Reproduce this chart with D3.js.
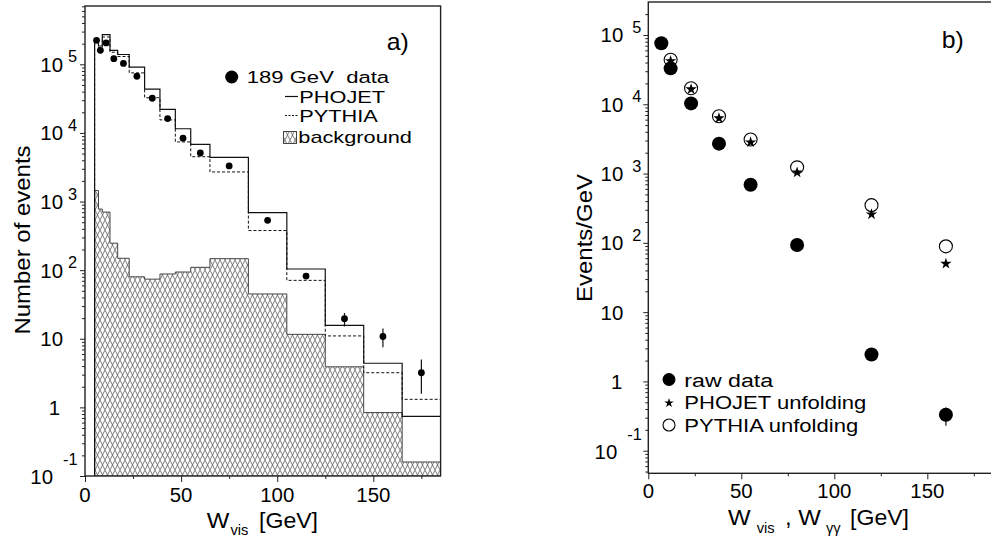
<!DOCTYPE html>
<html>
<head>
<meta charset="utf-8">
<script src="https://cdn.jsdelivr.net/npm/d3@7"></script>
<style>
  body { margin: 0; background: #fff; }
  svg { display: block; font-family: "Liberation Sans", Arial, sans-serif; }
</style>
</head>
<body>
<div id="chart"></div>
<script>
// a) W_vis distribution, 189 GeV data vs MC
const binEdges = [5, 7, 9, 13, 17, 23, 31, 39, 47, 55, 65, 85, 105, 125, 145, 165, 185];
const phojetA = [2.3e5, 1.85e5, 2.7e5, 1.6e5, 1.39e5, 9.1e4, 4.36e4, 2.2e4, 1.15e4, 6.8e3, 4.4e3, 690, 104, 15.7, 4.4, 0.74];
const pythiaA = [2.2e5, 1.75e5, 2.5e5, 1.5e5, 1.3e5, 7.5e4, 3.26e4, 1.55e4, 7.4e3, 4.5e3, 2.7e3, 378, 71, 11, 3.2, 1.31];
const backgroundA = [1450, 777, 702, 247, 149, 80, 74, 88, 94, 110, 147, 45, 11.6, 3.9, 0.84, 0.16];

const dataW = [6, 8, 11, 15, 20, 27, 35, 43, 51, 60, 75, 95, 115, 135, 155, 175];
const dataN = [2.24e5, 1.6e5, 2.05e5, 1.21e5, 1.03e5, 6.7e4, 3.2e4, 1.62e4, 8.4e3, 5.1e3, 3.3e3, 533, 82, 19.6, 10.8, 3.2];
const errW = [135, 155, 175];
const errLo = [15.1, 7.5, 1.58];
const errHi = [23.7, 14.1, 5.0];

// b) events per GeV, raw and unfolded
const rawW = [7, 12, 23, 38, 55, 80, 120, 160];
const rawN = [7.6e4, 3.3e4, 1.03e4, 2.7e3, 690, 93, 2.45, 0.33];
const unfW = [12, 23, 38, 55, 80, 120, 160];
const phojetUnf = [4.2e4, 1.65e4, 6.3e3, 2.83e3, 1.04e3, 258, 50];
const pythiaUnf = [4.4e4, 1.7e4, 6.7e3, 3.1e3, 1.23e3, 350, 89];
const rawErrW = [160];
const rawErrLo = [0.23];
const rawErrHi = [0.42];

const xTicks = [0, 50, 100, 150];
const xMinor = [25, 75, 125, 175];
const decades = [-1, 0, 1, 2, 3, 4, 5];

const width = 991;
const height = 541;

const svg = d3.select("#chart")
    .append("svg")
    .attr("width", width)
    .attr("height", height);

const defs = svg.append("defs");
const hatch = defs.append("pattern")
    .attr("id", "hatch")
    .attr("patternUnits", "userSpaceOnUse")
    .attr("width", 5)
    .attr("height", 10);
hatch.append("path")
    .attr("d", "M0,0 L5,10 M5,0 L0,10")
    .attr("stroke", "#5a5a5a")
    .attr("stroke-width", 0.8);

// the original lettering is wider than Helvetica, so stretch it
function label(g, x, y, str, size, anchor, sx, rot) {
    return g.append("text")
        .attr("transform", `translate(${x},${y})${rot ? " rotate(-90)" : ""} scale(${sx},1)`)
        .attr("text-anchor", anchor)
        .style("font-size", size + "px")
        .style("white-space", "pre")
        .text(str);
}

function minorValues(domain) {
    const out = [];
    for (let d = -3; d <= 6; d++) {
        for (let k = 2; k <= 9; k++) {
            const v = k * Math.pow(10, d);
            if (v > domain[0] && v < domain[1]) out.push(v);
        }
    }
    return out;
}

function drawAxes(g, x, y, o) {
    const x0 = x.range()[0];
    const y0 = y.range()[0];

    g.append("g")
        .attr("transform", `translate(${x0},0)`)
        .call(d3.axisLeft(y).tickValues(decades.map(d => Math.pow(10, d))).tickSize(5).tickSizeOuter(0).tickFormat(""))
        .call(a => a.select(".domain").remove());
    g.append("g")
        .attr("transform", `translate(${x0},0)`)
        .call(d3.axisLeft(y).tickValues(minorValues(y.domain())).tickSize(3).tickSizeOuter(0).tickFormat(""))
        .call(a => a.select(".domain").remove());
    g.append("g")
        .attr("transform", `translate(0,${y0})`)
        .call(d3.axisBottom(x).tickValues(xTicks).tickSize(6).tickSizeOuter(0).tickFormat(""))
        .call(a => a.select(".domain").remove());
    g.append("g")
        .attr("transform", `translate(0,${y0})`)
        .call(d3.axisBottom(x).tickValues(xMinor).tickSize(3).tickSizeOuter(0).tickFormat(""))
        .call(a => a.select(".domain").remove());
    g.selectAll(".tick line").attr("stroke", "#222").attr("stroke-width", 1);

    xTicks.forEach(t => label(g, x(t), y0 + o.xBase, String(t), 20, "middle", 1.02));

    decades.forEach(d => {
        const ty = y(Math.pow(10, d));
        if (d === 0) {
            label(g, x0 - o.one, ty + 7.5, "1", 20, "end", 1.02);
        } else if (d === 1) {
            label(g, x0 - o.ten, ty + 7.5, "10", 20, "end", 1.02);
        } else if (d === -1) {
            label(g, x0 - o.negTen, ty + 8, "10", 20, "end", 1.02);
            label(g, x0 - o.negExp, ty - 11, "-1", 16, "start", 1.02);
        } else {
            label(g, x0 - o.ten, ty + 7.5, "10", 20, "end", 1.02);
            label(g, x0 - o.exp, ty - 2, String(d), 16, "start", 1.02);
        }
    });

    const [xa, xb] = x.range();
    const [yb, ya] = y.range();
    g.append("rect")
        .attr("x", xa).attr("y", ya)
        .attr("width", xb - xa).attr("height", yb - ya)
        .attr("fill", "none")
        .attr("stroke", "#222")
        .attr("stroke-width", 1.4);
}

function stepPoints(values, x, y, bottom) {
    const pts = [[x(binEdges[0]), bottom]];
    values.forEach((v, i) => {
        pts.push([x(binEdges[i]), y(v)]);
        pts.push([x(binEdges[i + 1]), y(v)]);
    });
    pts.push([x(binEdges[binEdges.length - 1]), bottom]);
    return pts;
}

// ---------- panel a ----------
const xA = d3.scaleLinear().domain([0, 185]).range([85, 440.6]);
const yA = d3.scaleLog().domain([0.1, Math.pow(10, 5.85)]).range([476, 6]);

const gA = svg.append("g");
defs.append("clipPath").attr("id", "clipA")
    .append("rect").attr("x", 85).attr("y", 6).attr("width", 355.6).attr("height", 470);

const plotA = gA.append("g").attr("clip-path", "url(#clipA)");
const line = d3.line();

plotA.append("path")
    .attr("d", line(stepPoints(backgroundA, xA, yA, 476)) + "Z")
    .attr("fill", "url(#hatch)")
    .attr("stroke", "#444")
    .attr("stroke-width", 1);

plotA.append("path")
    .attr("d", line(stepPoints(pythiaA, xA, yA, 476)))
    .attr("fill", "none")
    .attr("stroke", "#111")
    .attr("stroke-width", 1)
    .attr("stroke-dasharray", "3,2");

plotA.append("path")
    .attr("d", line(stepPoints(phojetA, xA, yA, 476)))
    .attr("fill", "none")
    .attr("stroke", "#111")
    .attr("stroke-width", 1.2);

errW.forEach((w, i) => {
    plotA.append("line")
        .attr("x1", xA(w)).attr("x2", xA(w))
        .attr("y1", yA(errLo[i])).attr("y2", yA(errHi[i]))
        .attr("stroke", "#111")
        .attr("stroke-width", 1.2);
});

plotA.selectAll(".dot")
    .data(dataW.map((w, i) => ({ w, n: dataN[i] })))
    .enter().append("circle")
    .attr("cx", d => xA(d.w))
    .attr("cy", d => yA(d.n))
    .attr("r", 3.4)
    .attr("fill", "#000");

drawAxes(gA, xA, yA, { xBase: 25.7, one: 25, ten: 22, exp: 17, negTen: 32, negExp: 22 });

label(gA, 30, 240, "Number of events", 22, "middle", 1.09, true);
label(gA, 206.7, 528.3, "W", 22, "start", 1.09);
label(gA, 230.5, 535, "vis", 14, "start", 1.05);
label(gA, 259, 528.3, "[GeV]", 22, "start", 1.05);

label(gA, 386.7, 50, "a)", 23, "start", 1.08);

// legend a
gA.append("circle").attr("cx", 231.7).attr("cy", 77).attr("r", 6.5).attr("fill", "#000");
label(gA, 246.7, 83.3, "189 GeV  data", 17, "start", 1.3);
gA.append("line").attr("x1", 285).attr("x2", 298).attr("y1", 96.5).attr("y2", 96.5)
    .attr("stroke", "#111").attr("stroke-width", 1.2);
label(gA, 299.3, 102.7, "PHOJET", 17, "start", 1.28);
gA.append("line").attr("x1", 285).attr("x2", 298).attr("y1", 115.5).attr("y2", 115.5)
    .attr("stroke", "#111").attr("stroke-width", 1).attr("stroke-dasharray", "2,1.5");
label(gA, 299.3, 121.7, "PYTHIA", 17, "start", 1.28);
gA.append("rect").attr("x", 283.5).attr("y", 131.5).attr("width", 13).attr("height", 12)
    .attr("fill", "url(#hatch)").attr("stroke", "#444").attr("stroke-width", 1);
label(gA, 298.3, 143.3, "background", 17, "start", 1.28);

// ---------- panel b ----------
const xB = d3.scaleLinear().domain([0, 185]).range([648.3, 992.4]);
const yB = d3.scaleLog().domain([Math.pow(10, -1.326), Math.pow(10, 5.476)]).range([473.3, 2]);

const gB = svg.append("g");
const star = d3.symbol().type(d3.symbolStar);

gB.selectAll(".open")
    .data(unfW.map((w, i) => ({ w, n: pythiaUnf[i] })))
    .enter().append("circle")
    .attr("cx", d => xB(d.w))
    .attr("cy", d => yB(d.n))
    .attr("r", 6.5)
    .attr("fill", "#fff")
    .attr("stroke", "#000")
    .attr("stroke-width", 1.1);

gB.selectAll(".star")
    .data(unfW.map((w, i) => ({ w, n: phojetUnf[i] })))
    .enter().append("path")
    .attr("d", star.size(40)())
    .attr("transform", d => `translate(${xB(d.w)},${yB(d.n)})`)
    .attr("fill", "#000");

rawErrW.forEach((w, i) => {
    gB.append("line")
        .attr("x1", xB(w)).attr("x2", xB(w))
        .attr("y1", yB(rawErrLo[i])).attr("y2", yB(rawErrHi[i]))
        .attr("stroke", "#111")
        .attr("stroke-width", 1.2);
});

gB.selectAll(".raw")
    .data(rawW.map((w, i) => ({ w, n: rawN[i] })))
    .enter().append("circle")
    .attr("cx", d => xB(d.w))
    .attr("cy", d => yB(d.n))
    .attr("r", 7)
    .attr("fill", "#000");

drawAxes(gB, xB, yB, { xBase: 24.7, one: 26, ten: 25, exp: 16, negTen: 31, negExp: 21 });

label(gB, 592, 238, "Events/GeV", 22, "middle", 1.09, true);
label(gB, 728, 525, "W", 22, "start", 1.09);
label(gB, 756.7, 533, "vis", 14, "start", 1.05);
label(gB, 785, 525, ", W", 22, "start", 1.09);
label(gB, 826, 533, "γγ", 14, "start", 1.05);
label(gB, 850, 525, "[GeV]", 22, "start", 1.05);

label(gB, 941.7, 48, "b)", 23, "start", 1.08);

// legend b
gB.append("circle").attr("cx", 669).attr("cy", 379.5).attr("r", 6.5).attr("fill", "#000");
label(gB, 684.3, 386.7, "raw data", 19, "start", 1.22);
gB.append("path").attr("d", d3.symbol().type(d3.symbolStar).size(28)())
    .attr("transform", "translate(669,403)").attr("fill", "#000");
label(gB, 684.3, 409, "PHOJET unfolding", 19, "start", 1.16);
gB.append("circle").attr("cx", 669).attr("cy", 425).attr("r", 6).attr("fill", "#fff")
    .attr("stroke", "#000").attr("stroke-width", 1.1);
label(gB, 684.3, 431.5, "PYTHIA unfolding", 19, "start", 1.16);
</script>
</body>
</html>
